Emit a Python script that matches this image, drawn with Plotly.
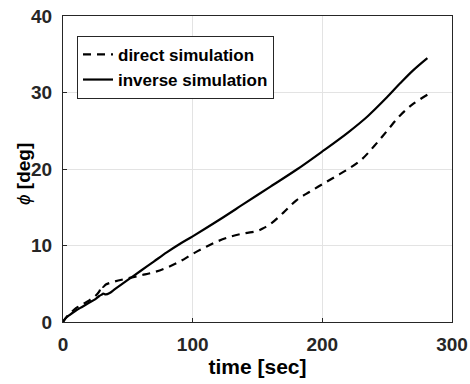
import plotly.graph_objects as go

t_inv = [0, 2, 5, 10, 15, 20, 25, 28, 30, 31, 33, 36, 40, 50, 60, 70, 80, 90, 100,
         120, 140, 160, 180, 200, 220, 235, 250, 260, 270, 281]
phi_inv = [0, 0.5, 0.9, 1.5, 2.0, 2.5, 3.0, 3.4, 3.6, 3.7, 3.6, 3.8, 4.3, 5.5, 6.7,
           7.9, 9.1, 10.2, 11.2, 13.3, 15.5, 17.7, 19.9, 22.3, 24.8, 26.9, 29.4,
           31.2, 32.9, 34.5]

t_dir = [0, 3, 6, 10, 15, 20, 25, 28, 30, 31, 33, 40, 50, 60, 70, 80, 90, 100, 110,
         120, 130, 140, 150, 155, 160, 170, 180, 190, 200, 210, 220, 230, 240, 250,
         260, 270, 281]
phi_dir = [0, 0.7, 1.2, 1.8, 2.3, 2.8, 3.4, 4.0, 4.8, 4.6, 4.9, 5.3, 5.7, 6.1, 6.5,
           7.1, 7.9, 8.9, 9.8, 10.6, 11.2, 11.6, 11.9, 12.3, 12.8, 14.3, 15.9, 17.0,
           18.0, 19.0, 20.0, 21.2, 23.0, 25.0, 27.0, 28.5, 29.7]

x_ticks = [0, 100, 200, 300]
y_ticks = [0, 10, 20, 30, 40]

FONT = "Liberation Sans"
TXT = "#262626"

fig = go.Figure()
fig.add_trace(go.Scatter(x=t_dir, y=phi_dir, mode="lines", name="direct simulation",
                         line=dict(color="black", width=2.2, dash="8px,6px", shape="spline")))
fig.add_trace(go.Scatter(x=t_inv, y=phi_inv, mode="lines", name="inverse simulation",
                         line=dict(color="black", width=2.2, shape="spline")))

axis_common = dict(showgrid=True, gridcolor="#e3e3e3", gridwidth=1,
                   showline=True, linecolor="#262626", linewidth=1, mirror=True,
                   ticks="inside", ticklen=4, tickcolor="#262626", zeroline=False,
                   automargin=False,
                   tickfont=dict(family=FONT, size=19, color=TXT, weight="bold"))

fig.update_layout(
    width=470, height=384,
    margin=dict(l=63, r=18, t=16, b=62),
    paper_bgcolor="white", plot_bgcolor="white",
    showlegend=True,
    legend=dict(x=0.036, y=0.935, xanchor="left", yanchor="top",
                bgcolor="white", bordercolor="#262626", borderwidth=1,
                font=dict(family=FONT, size=17, color="black", weight="bold"),
                tracegroupgap=0, itemwidth=30),
    xaxis=dict(range=[0, 300], tickvals=x_ticks, ticklabelstandoff=5,
               title=dict(text="time [sec]", standoff=4,
                          font=dict(family=FONT, size=21, color="black", weight="bold")),
               **axis_common),
    yaxis=dict(range=[0, 40], tickvals=y_ticks, ticklabelstandoff=6,
               **axis_common),
    annotations=[dict(text="<i>ϕ</i> <b>[deg]</b>", xref="paper", yref="paper",
                      x=-0.1, y=0.484, xanchor="center", yanchor="middle",
                      textangle=-90, showarrow=False,
                      font=dict(family=FONT, size=19, color="black"))],
)

fig.write_html("out.html")
